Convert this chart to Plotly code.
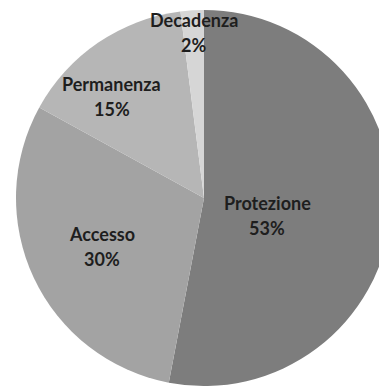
import math
import plotly.graph_objects as go

# Data
labels = ["Protezione", "Accesso", "Permanenza", "Decadenza"]
values = [53, 30, 15, 2]

# Styles
colors = ["#7d7d7d", "#a3a3a3", "#b6b6b6", "#d6d6d6"]
label_radius = [0.35, 0.60, 0.73, 0.88]
label_angle_shift = [10, 0, -8, 0]

W, H = 408, 386
dom_x = [16 / W, 392 / W]
dom_y = [0, 376 / H]

fig = go.Figure(go.Pie(
    labels=labels,
    values=values,
    sort=False,
    direction="clockwise",
    rotation=0,
    marker=dict(colors=colors, line=dict(width=0)),
    textinfo="none",
    hoverinfo="label+percent",
    domain=dict(x=dom_x, y=dom_y),
    showlegend=False,
))

# label positions derived from slice angles
cx = (dom_x[0] + dom_x[1]) / 2 * W
cy = H - (dom_y[0] + dom_y[1]) / 2 * H
r = min((dom_x[1] - dom_x[0]) * W, (dom_y[1] - dom_y[0]) * H) / 2
total = sum(values)
cum = 0
anns = []
for i, (lab, v) in enumerate(zip(labels, values)):
    mid = (cum + v / 2) / total * 360 + label_angle_shift[i]
    cum += v
    a = math.radians(mid)
    px = cx + label_radius[i] * r * math.sin(a)
    py = cy - label_radius[i] * r * math.cos(a)
    pct = round(v / total * 100)
    for txt, dy in ((lab, -12.5), (f"{pct}%", 12.5)):
        anns.append(dict(
            x=px / W, y=1 - (py + dy) / H, xref="paper", yref="paper",
            text=f"<b>{txt}</b>", showarrow=False,
            xanchor="center", yanchor="middle",
            font=dict(family="Lato", size=18, color="#1e1e1e"),
        ))

fig.update_layout(
    width=W, height=H,
    margin=dict(l=0, r=0, t=0, b=0),
    paper_bgcolor="white",
    plot_bgcolor="white",
    annotations=anns,
)

fig.write_html(
    "out.html",
    config={"displayModeBar": False},
    post_script="document.documentElement.style.overflow='hidden';document.body.style.overflow='hidden';",
)
